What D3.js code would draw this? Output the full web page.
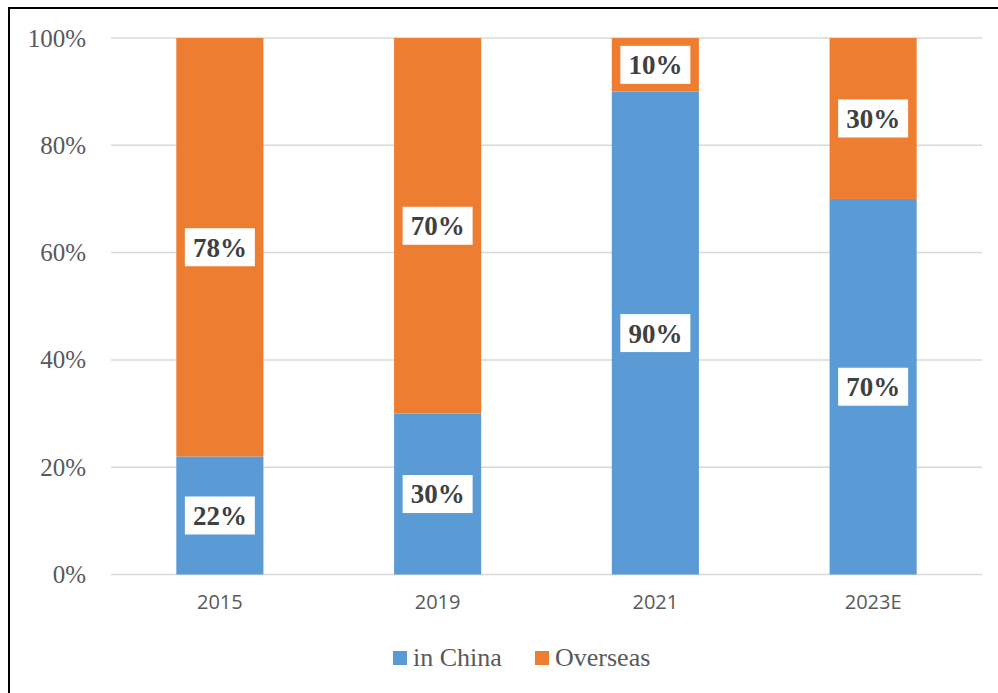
<!DOCTYPE html>
<html><head><meta charset="utf-8">
<script src="https://cdn.jsdelivr.net/npm/d3@7"></script>
<style>body{margin:0;background:#fff;} svg{display:block;}</style>
</head><body>
<svg id="chart" width="998" height="693"></svg>
<script>
const categories = ["2015", "2019", "2021", "2023E"];
const inChina = [22, 30, 90, 70];
const overseas = [78, 70, 10, 30];
const seriesNames = ["in China", "Overseas"];
const yTicks = [0, 20, 40, 60, 80, 100];

const colors = {"in China": "#5B9BD5", "Overseas": "#ED7D31"};
const svg = d3.select("#chart");
const W = 998, H = 693;
const m = {left: 111, right: 16, top: 38, bottom: 118};

svg.append("rect").attr("x", 9).attr("y", 8).attr("width", W + 10).attr("height", H + 10)
  .attr("fill", "#fff").attr("stroke", "#000").attr("stroke-width", 2);

const x = d3.scaleBand().domain(categories).range([m.left, W - m.right]).paddingInner(0.6).paddingOuter(0.3);
const y = d3.scaleLinear().domain([0, 100]).range([574.5, m.top]);

// grid
svg.append("g").selectAll("line").data(yTicks).join("line")
  .attr("x1", m.left).attr("x2", W - m.right)
  .attr("y1", d => y(d)).attr("y2", d => y(d))
  .attr("stroke", "#d9d9d9").attr("stroke-width", 1.5);

// y axis labels
const yAxis = d3.axisLeft(y).tickValues(yTicks).tickFormat(d => d + "%").tickSize(0).tickPadding(0);
const ya = svg.append("g").attr("transform", "translate(86,0)").call(yAxis);
ya.select(".domain").remove();
ya.selectAll("text").attr("font-family", "'Liberation Serif', 'Times New Roman', serif")
  .attr("font-size", 25).attr("fill", "#595959");

// x axis labels
const xAxis = d3.axisBottom(x).tickSize(0).tickPadding(0);
const xa = svg.append("g").attr("transform", "translate(0,595)").call(xAxis);
xa.select(".domain").remove();
xa.selectAll("text").attr("font-family", "'Open Sans', 'Liberation Sans', sans-serif")
  .attr("font-size", 20).attr("fill", "#595959");

// stacked data
const rows = categories.map((c, i) => ({cat: c, "in China": inChina[i], "Overseas": overseas[i]}));
const stack = d3.stack().keys(seriesNames)(rows);

const gBars = svg.append("g");
stack.forEach(layer => {
  gBars.append("g").selectAll("rect").data(layer).join("rect")
    .attr("x", d => x(d.data.cat))
    .attr("width", x.bandwidth())
    .attr("y", d => y(d[1]))
    .attr("height", d => y(d[0]) - y(d[1]))
    .attr("fill", colors[layer.key]);
});

// labels
const gLab = svg.append("g");
stack.forEach(layer => {
  layer.forEach(d => {
    const cx = x(d.data.cat) + x.bandwidth() / 2;
    const cy = (y(d[0]) + y(d[1])) / 2;
    const g = gLab.append("g").attr("transform", `translate(${cx},${cy})`);
    g.append("rect").attr("x", -35).attr("y", -19).attr("width", 70).attr("height", 38).attr("fill", "#fff");
    g.append("text").attr("text-anchor", "middle").attr("dy", "0.35em")
      .attr("font-family", "'Liberation Serif', 'Times New Roman', serif")
      .attr("font-weight", "bold").attr("font-size", 27).attr("fill", "#404040")
      .text((d[1] - d[0]) + "%");
  });
});

// legend
const legend = svg.append("g");
const legendPos = [{k: "in China", x: 393}, {k: "Overseas", x: 535}];
legendPos.forEach(p => {
  legend.append("rect").attr("x", p.x).attr("y", 651).attr("width", 14).attr("height", 14).attr("fill", colors[p.k]);
  legend.append("text").attr("x", p.x + 20).attr("y", 666)
    .attr("font-family", "'Liberation Serif', 'Times New Roman', serif")
    .attr("font-size", 26).attr("fill", "#595959").text(p.k);
});
</script>
</body></html>
